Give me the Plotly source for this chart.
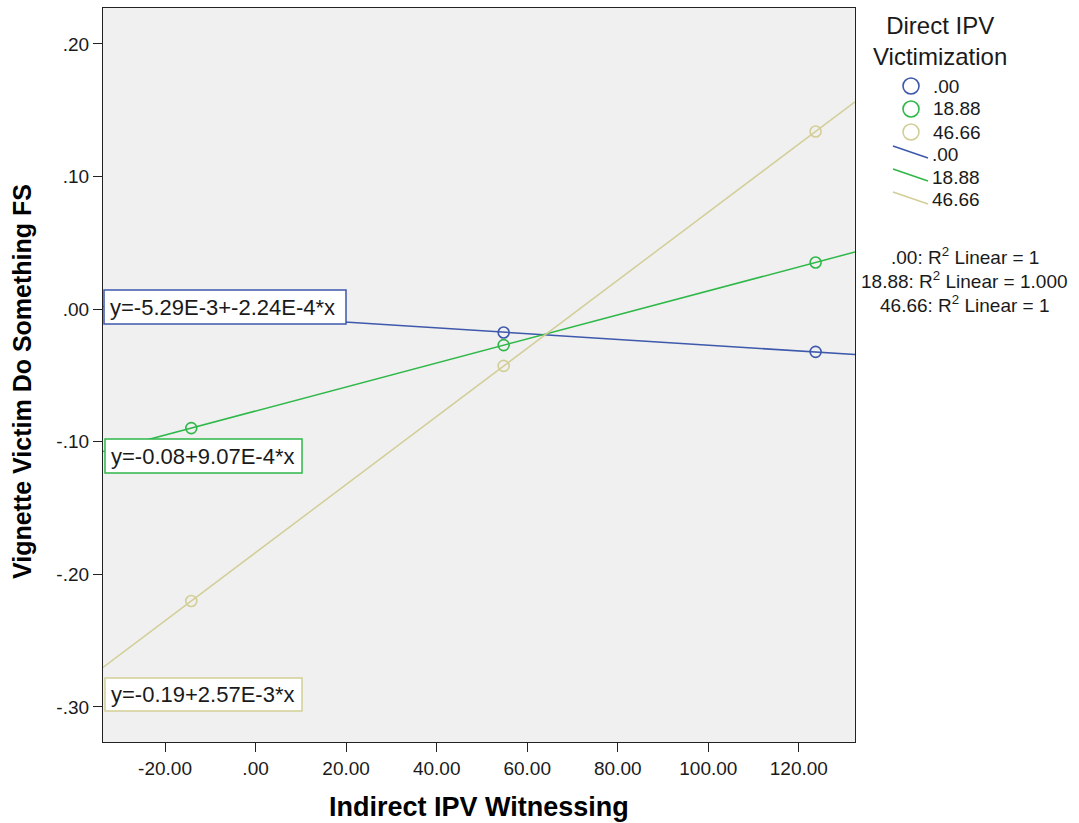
import numpy as np
import plotly.graph_objects as go

# ---------------- data ----------------
groups = [".00", "18.88", "46.66"]
colors = ["#3E58AC", "#2EB848", "#D3CE97"]
x_points = [-14.2, 54.8, 123.7]
y_blue = [-0.0021, -0.0176, -0.0322]
y_green = [-0.0897, -0.0271, 0.0352]
y_tan = [-0.2201, -0.0428, 0.1340]
y_series = [y_blue, y_green, y_tan]
equations = ["y=-5.29E-3+-2.24E-4*x", "y=-0.08+9.07E-4*x", "y=-0.19+2.57E-3*x"]
r2_labels = [".00: R<sup>2</sup> Linear = 1",
             "18.88: R<sup>2</sup> Linear = 1.000",
             "46.66: R<sup>2</sup> Linear = 1"]
x_range = [-33.7, 132.4]
y_range = [-0.3264, 0.2271]
x_tickvals = [-20, 0, 20, 40, 60, 80, 100, 120]
x_ticktext = ["-20.00", ".00", "20.00", "40.00", "60.00", "80.00", "100.00", "120.00"]
y_tickvals = [0.2, 0.1, 0.0, -0.1, -0.2, -0.3]
y_ticktext = [".20", ".10", ".00", "-.10", "-.20", "-.30"]
x_title = "Indirect IPV Witnessing"
y_title = "Vignette Victim Do Something FS"
legend_title = "Direct IPV<br>Victimization"

# ---------------- layout geometry (pixels) ----------------
W, H = 1079, 823
L, R, T, B = 103, 855, 8, 742
FONT = "Liberation Sans, Arial, sans-serif"
TXT = "#1a1a1a"


def px(x):
    return (x - L) / (R - L)


def py(y):
    return (B - y) / (B - T)


fig = go.Figure()

# fit lines
for name, ys, c in zip(groups, y_series, colors):
    slope, icpt = np.polyfit(x_points, ys, 1)
    xs = np.array(x_range)
    fig.add_trace(go.Scatter(x=xs, y=icpt + slope * xs, mode="lines",
                             line=dict(color=c, width=1.5), showlegend=False,
                             hoverinfo="skip"))
# points
for name, ys, c in zip(groups, y_series, colors):
    fig.add_trace(go.Scatter(x=x_points, y=ys, mode="markers",
                             marker=dict(symbol="circle-open", size=11, color=c,
                                         line=dict(color=c, width=1.6)),
                             showlegend=False, name=name))

annotations = []
shapes = []

# equation boxes
box_specs = [  # left, top, bottom, right in px
    (104, 290, 324, 346),
    (105, 439, 473, 302),
    (105, 678, 711, 302),
]
for eq, c, (bl, bt, bb, br) in zip(equations, colors, box_specs):
    shapes.append(dict(type="rect", xref="paper", yref="paper", layer="above",
                       x0=px(bl), x1=px(br), y0=py(bb), y1=py(bt),
                       fillcolor="white", line=dict(color=c, width=1.5)))
    annotations.append(dict(
        x=px(bl + 4), y=py((bt + bb) / 2), xref="paper", yref="paper",
        xanchor="left", yanchor="middle", text=eq, showarrow=False,
        font=dict(family=FONT, size=22, color=TXT), align="left"))

# axis titles
annotations.append(dict(x=px((L + R) / 2), y=py(807), xref="paper", yref="paper",
                        text=x_title, showarrow=False, xanchor="center", yanchor="middle",
                        font=dict(family=FONT, size=27, color="black", weight="bold")))
annotations.append(dict(x=px(22), y=py(382), xref="paper", yref="paper",
                        text=y_title, showarrow=False, textangle=-90,
                        xanchor="center", yanchor="middle",
                        font=dict(family=FONT, size=25, color="black", weight="bold")))

# custom legend
annotations.append(dict(x=px(940), y=py(41), xref="paper", yref="paper",
                        text=legend_title, showarrow=False, xanchor="center",
                        yanchor="middle", align="center",
                        font=dict(family=FONT, size=24, color=TXT)))
marker_rows = [86, 109, 132]
line_rows = [153, 176, 199]
for name, c, yr in zip(groups, colors, marker_rows):
    shapes.append(dict(type="circle", xref="paper", yref="paper",
                       x0=px(903), x1=px(919), y0=py(yr + 8), y1=py(yr - 8),
                       line=dict(color=c, width=1.6)))
    annotations.append(dict(x=px(931), y=py(yr), xref="paper", yref="paper",
                            text=name, showarrow=False, xanchor="left", yanchor="middle",
                            font=dict(family=FONT, size=19, color=TXT)))
for name, c, yr in zip(groups, colors, line_rows):
    shapes.append(dict(type="line", xref="paper", yref="paper",
                       x0=px(893), x1=px(928), y0=py(yr - 7), y1=py(yr + 5),
                       line=dict(color=c, width=1.6)))
    annotations.append(dict(x=px(930), y=py(yr + 1), xref="paper", yref="paper",
                            text=name, showarrow=False, xanchor="left", yanchor="middle",
                            font=dict(family=FONT, size=19, color=TXT)))
for lab, yr in zip(r2_labels, [256, 280, 304]):
    annotations.append(dict(x=px(965), y=py(yr), xref="paper", yref="paper",
                            text=lab, showarrow=False, xanchor="center", yanchor="middle",
                            font=dict(family=FONT, size=19, color=TXT)))

fig.update_layout(
    width=W, height=H,
    margin=dict(l=L, r=W - R, t=T, b=H - B, pad=0),
    paper_bgcolor="white", plot_bgcolor="#F0F0F0",
    font=dict(family=FONT, color=TXT),
    showlegend=False,
    annotations=annotations, shapes=shapes,
)
fig.update_xaxes(range=x_range, tickvals=x_tickvals, ticktext=x_ticktext,
                 showgrid=False, zeroline=False, showline=True, mirror=True,
                 linecolor="#222", linewidth=1.2, ticks="outside", ticklen=9,
                 tickcolor="#222", tickwidth=1.2,
                 tickfont=dict(family=FONT, size=19, color=TXT))
fig.update_yaxes(range=y_range, tickvals=y_tickvals, ticktext=y_ticktext,
                 showgrid=False, zeroline=False, showline=True, mirror=True,
                 linecolor="#222", linewidth=1.2, ticks="outside", ticklen=9,
                 tickcolor="#222", tickwidth=1.2,
                 tickfont=dict(family=FONT, size=19, color=TXT))

fig.write_html("out.html", config={"displayModeBar": False},
               post_script="document.body.style.margin='0';")
